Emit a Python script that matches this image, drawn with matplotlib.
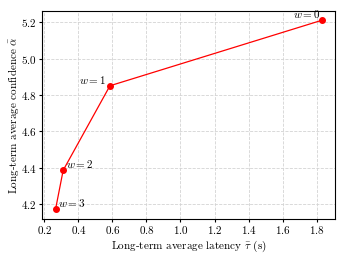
import numpy as np
import matplotlib
matplotlib.use('Agg')
import matplotlib.pyplot as plt

plt.rcParams['font.family'] = 'serif'
plt.rcParams['font.serif'] = ['cmr10']
plt.rcParams['mathtext.fontset'] = 'cm'
plt.rcParams['axes.formatter.use_mathtext'] = True
plt.rcParams['font.size'] = 8
plt.rcParams['xtick.major.size'] = 2
plt.rcParams['ytick.major.size'] = 2
plt.rcParams['xtick.major.pad'] = 2
plt.rcParams['ytick.major.pad'] = 2

latency = [0.265, 0.31, 0.585, 1.83]
confidence = [4.17, 4.385, 4.85, 5.21]
labels = ['$w = 3$', '$w = 2$', '$w = 1$', '$w = 0$']

fig, ax = plt.subplots(figsize=(3.46, 2.59), dpi=100)
ax.plot(latency, confidence, color='red', linewidth=0.9, marker='o', markersize=4)

offsets = [(2, 0, 'left'), (2, 0, 'left'), (-3, 0, 'right'), (-1, 0, 'right')]
for x, y, lab, (dx, dy, ha) in zip(latency, confidence, labels, offsets):
    ax.annotate(lab, (x, y), xytext=(dx, dy), textcoords='offset points',
                ha=ha, va='bottom', fontsize=8)

ax.grid(True, linestyle='--', color='lightgray', linewidth=0.6)
ax.set_xticks([0.2, 0.4, 0.6, 0.8, 1.0, 1.2, 1.4, 1.6, 1.8])
ax.set_xlabel(r'Long-term average latency $\bar{\tau}$ (s)', labelpad=2)
ax.set_ylabel(r'Long-term average confidence $\bar{\alpha}$', labelpad=0)

fig.subplots_adjust(left=0.122, right=0.968, top=0.958, bottom=0.155)
fig.savefig('out.png', dpi=100)
